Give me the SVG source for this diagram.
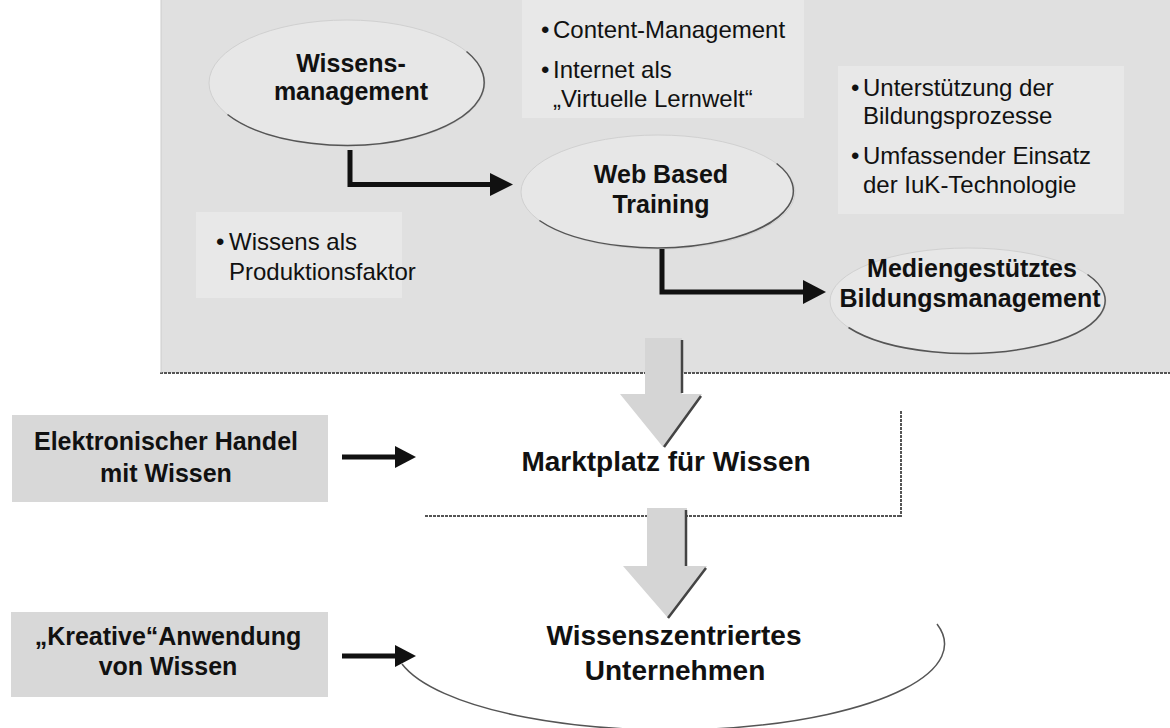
<svg xmlns="http://www.w3.org/2000/svg" width="1170" height="728" viewBox="0 0 1170 728">
<defs>
<style>
.b{font-family:"Liberation Sans",Arial,sans-serif;font-weight:bold;fill:#111;text-anchor:middle}
.n25{font-size:25px}
.n28{font-size:28px}
.r{font-family:"Liberation Sans",Arial,sans-serif;font-size:24px;fill:#111}
.ell{fill:#e7e7e7;stroke:#d0d0d0;stroke-width:1}
.shadow{fill:none;stroke:#555;stroke-width:1.5}
.lbox{fill:#e8e8e8}
.gbox{fill:#d8d8d8}
.conn{fill:none;stroke:#111;stroke-width:5}
.head{fill:#111}
.big{fill:#d5d5d5}
.bigedge{fill:none;stroke:#444;stroke-width:2.5}
.frame{fill:none;stroke:#555;stroke-width:2;stroke-dasharray:3 1}
</style>
</defs>
<rect width="1170" height="728" fill="#fff"/>

<g id="panel">
<rect x="161" y="0" width="1009" height="373" fill="#e0e0e0"/>
<line x1="160" y1="373" x2="1170" y2="373" class="frame"/>
<line x1="161" y1="0" x2="161" y2="373" stroke="#ccc" stroke-width="1"/>
</g>

<g id="bullets-content">
<rect class="lbox" x="522" y="0" width="282" height="118"/>
<text class="r" y="38"><tspan x="541">•</tspan><tspan x="553">Content-Management</tspan></text>
<text class="r" y="78"><tspan x="541">•</tspan><tspan x="553">Internet als</tspan></text>
<text class="r" x="553" y="107">„Virtuelle Lernwelt“</text>
</g>

<g id="bullets-bildung">
<rect class="lbox" x="838" y="66" width="286" height="148"/>
<text class="r" y="96"><tspan x="851">•</tspan><tspan x="863">Unterstützung der</tspan></text>
<text class="r" x="863" y="124">Bildungsprozesse</text>
<text class="r" y="164"><tspan x="851">•</tspan><tspan x="863">Umfassender Einsatz</tspan></text>
<text class="r" x="863" y="193">der IuK-Technologie</text>
</g>

<g id="bullets-wissen">
<rect class="lbox" x="196" y="212" width="206" height="86"/>
<text class="r" y="250"><tspan x="216">•</tspan><tspan x="229">Wissens als</tspan></text>
<text class="r" x="229" y="280">Produktionsfaktor</text>
</g>

<g id="wissensmanagement">
<ellipse class="ell" cx="347" cy="83" rx="138" ry="63"/>
<path class="shadow" d="M227.5,114.5 A138,63 0 0 0 466.5,51.5"/>
<text class="b n25" x="351" y="72">Wissens-</text>
<text class="b n25" x="351" y="100">management</text>
</g>

<g id="web-based-training">
<ellipse class="ell" cx="658" cy="192" rx="137" ry="57"/>
<path class="shadow" d="M539.4,220.5 A137,57 0 0 0 776.6,163.5"/>
<text class="b n25" x="661" y="183">Web Based</text>
<text class="b n25" x="661" y="213">Training</text>
</g>

<g id="bildungsmanagement">
<ellipse class="ell" cx="968" cy="301" rx="138" ry="53"/>
<path class="shadow" d="M848.5,327.5 A138,53 0 0 0 1087.5,274.5"/>
<text class="b n25" x="972" y="277">Mediengestütztes</text>
<text class="b n25" x="970" y="307">Bildungsmanagement</text>
</g>

<g id="marktplatz">
<line x1="901" y1="411" x2="901" y2="517" class="frame"/>
<line x1="425" y1="516" x2="901" y2="516" class="frame"/>
<text class="b n28" x="666" y="471">Marktplatz für Wissen</text>
</g>

<g id="unternehmen">
<path class="shadow" d="M402,664 A275,86 0 0 0 937,624"/>
<text class="b n28" x="674" y="645">Wissenszentriertes</text>
<text class="b n28" x="675" y="680">Unternehmen</text>
</g>

<g id="handel">
<rect class="gbox" x="12" y="415" width="316" height="87"/>
<text class="b n25" x="166" y="450">Elektronischer Handel</text>
<text class="b n25" x="166" y="482">mit Wissen</text>
</g>

<g id="kreative">
<rect class="gbox" x="11" y="612" width="317" height="85"/>
<text class="b n25" x="168" y="645">„Kreative“Anwendung</text>
<text class="b n25" x="168" y="675">von Wissen</text>
</g>

<g id="connectors">
<path class="conn" d="M350,150 V184.5 H492"/>
<polygon class="head" points="490,173 513,184.5 490,196"/>
<path class="conn" d="M662,249 V292 H805"/>
<polygon class="head" points="803,280 826,292 803,304"/>
<line class="conn" x1="342" y1="457" x2="398" y2="457" stroke-width="4"/>
<polygon class="head" points="395,446 416,457 395,468"/>
<line class="conn" x1="342" y1="656" x2="398" y2="656" stroke-width="4"/>
<polygon class="head" points="395,645 416,656 395,667"/>
<polygon class="big" points="645,338 682,338 682,394 702,394 663,447 620,394 645,394"/>
<path class="bigedge" d="M682,340 V393 M701,396 L664,447"/>
<polygon class="big" points="647,508 687,508 687,566 707,566 668,618 623,566 647,566"/>
<path class="bigedge" d="M686,510 V566 M706,568 L668,618"/>
</g>
</svg>
